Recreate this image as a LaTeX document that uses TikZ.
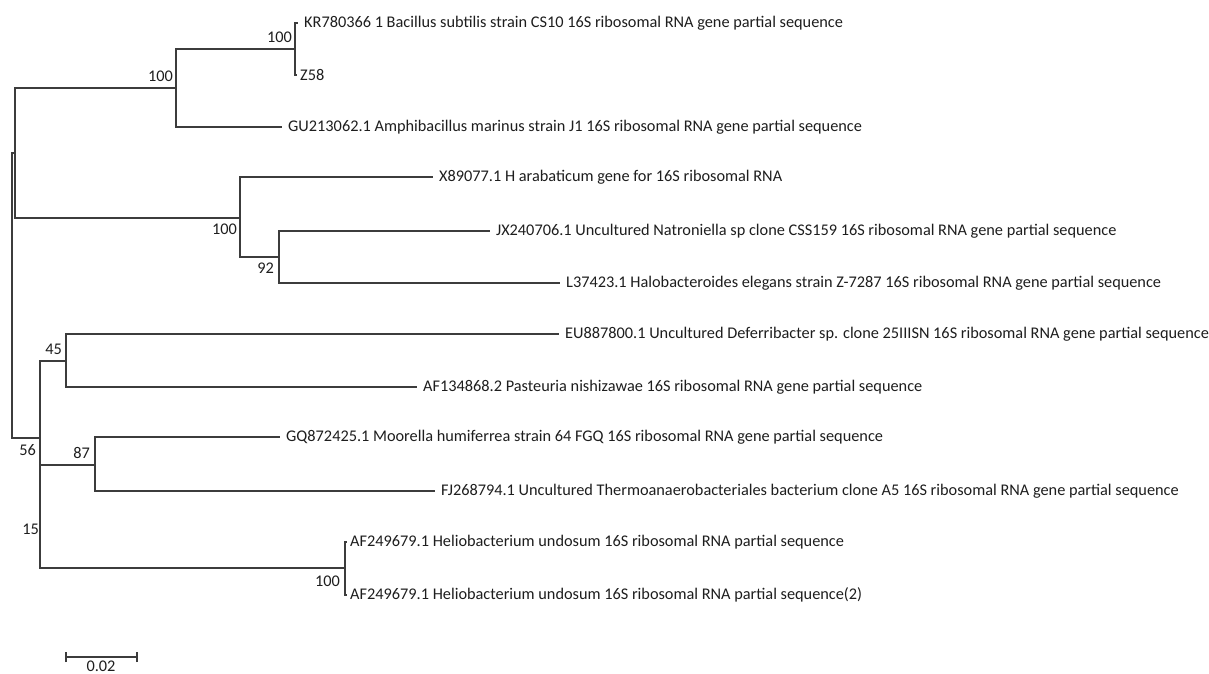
\documentclass[tikz,border=0pt]{standalone}
\usepackage{fontspec}
\setmainfont{Carlito}
\usepackage{xcolor}
\definecolor{TreeGray}{HTML}{3C3C3C}
\definecolor{LabelInk}{HTML}{1E1E1E}
\usepackage{tikz}
\usetikzlibrary{positioning}

\tikzset{
  branch/.style={draw=TreeGray, line width=1.3pt},
  leaflabel/.style={font=\fontsize{16.3}{18}\selectfont, text=LabelInk, inner sep=0pt, anchor=west},
  bootlabel/.style={font=\fontsize{16.3}{18}\selectfont, text=LabelInk, inner sep=0pt, anchor=east}
}

\begin{document}
\begin{tikzpicture}[x=1pt, y=-1pt]
  \useasboundingbox (0,0) rectangle (1209,674);
  \fill[white] (0,0) rectangle (1209,674);

  % internal nodes
  \coordinate (root) at (12,295);
  \coordinate (nA) at (15,153);
  \coordinate (nC) at (176,88);
  \coordinate (nE) at (295,49);
  \coordinate (nD) at (240,218);
  \coordinate (nF) at (279,257);
  \coordinate (nB) at (40,438);
  \coordinate (nG) at (66,361);
  \coordinate (nH) at (95,465);
  \coordinate (nI) at (345,568);

  % leaf tips
  \coordinate (tKR) at (298,23);
  \coordinate (tZ58) at (297,75);
  \coordinate (tGU) at (282,127);
  \coordinate (tX89) at (433,177);
  \coordinate (tJX) at (490,231);
  \coordinate (tL37) at (560,283);
  \coordinate (tEU) at (559,334);
  \coordinate (tAF13) at (417,387);
  \coordinate (tGQ) at (280,437);
  \coordinate (tFJ) at (435,491);
  \coordinate (tHe1) at (347,542);
  \coordinate (tHe2) at (347,595);

  % leaf labels
  \node[leaflabel, right=6pt of tKR] (lKR) {KR780366 1 Bacillus subtilis strain CS10 16S ribosomal RNA gene partial sequence};
  \node[leaflabel, right=3pt of tZ58] (lZ58) {Z58};
  \node[leaflabel, right=6pt of tGU] (lGU) {GU213062.1 Amphibacillus marinus strain J1 16S ribosomal RNA gene partial sequence};
  \node[leaflabel, right=6pt of tX89] (lX89) {X89077.1 H arabaticum gene for 16S ribosomal RNA};
  \node[leaflabel, right=6pt of tJX] (lJX) {JX240706.1 Uncultured Natroniella sp clone CSS159 16S ribosomal RNA gene partial sequence};
  \node[leaflabel, right=6pt of tL37] (lL37) {L37423.1 Halobacteroides elegans strain Z-7287 16S ribosomal RNA gene partial sequence};
  \node[leaflabel, right=6pt of tEU] (lEU) {EU887800.1 Uncultured Deferribacter sp. clone 25IIISN 16S ribosomal RNA gene partial sequence};
  \node[leaflabel, right=6pt of tAF13] (lAF13) {AF134868.2 Pasteuria nishizawae 16S ribosomal RNA gene partial sequence};
  \node[leaflabel, right=6pt of tGQ] (lGQ) {GQ872425.1 Moorella humiferrea strain 64 FGQ 16S ribosomal RNA gene partial sequence};
  \node[leaflabel, right=6pt of tFJ] (lFJ) {FJ268794.1 Uncultured Thermoanaerobacteriales bacterium clone A5 16S ribosomal RNA gene partial sequence};
  \node[leaflabel, right=3pt of tHe1] (lHe1) {AF249679.1 Heliobacterium undosum 16S ribosomal RNA partial sequence};
  \node[leaflabel, right=3pt of tHe2] (lHe2) {AF249679.1 Heliobacterium undosum 16S ribosomal RNA partial sequence(2)};

  % branches
  \draw[branch] (root) |- (nA);
  \draw[branch] (root) |- (nB);
  \draw[branch] (nA) |- (nC);
  \draw[branch] (nA) |- (nD);
  \draw[branch] (nC) |- (nE);
  \draw[branch] (nC) |- (tGU);
  \draw[branch] (nE) |- (tKR);
  \draw[branch] (nE) |- (tZ58);
  \draw[branch] (nD) |- (tX89);
  \draw[branch] (nD) |- (nF);
  \draw[branch] (nF) |- (tJX);
  \draw[branch] (nF) |- (tL37);
  \draw[branch] (nB) |- (nG);
  \draw[branch] (nB) |- (nH);
  \draw[branch] (nB) |- (nI);
  \draw[branch] (nG) |- (tEU);
  \draw[branch] (nG) |- (tAF13);
  \draw[branch] (nH) |- (tGQ);
  \draw[branch] (nH) |- (tFJ);
  \draw[branch] (nI) |- (tHe1);
  \draw[branch] (nI) |- (tHe2);

  % bootstrap values
  \node[bootlabel] (bE) at (292,37) {100};
  \node[bootlabel] (bC) at (173,76) {100};
  \node[bootlabel] (bD) at (237,229) {100};
  \node[bootlabel] (bF) at (274,268) {92};
  \node[bootlabel] (bG) at (62,349) {45};
  \node[bootlabel] (bB) at (36,450) {56};
  \node[bootlabel] (bH) at (90,453) {87};
  \node[bootlabel] (bX) at (39,529) {15};
  \node[bootlabel] (bI) at (340,581) {100};

  % scale bar
  \coordinate (sbL) at (66,657);
  \coordinate (sbR) at (137,657);
  \draw[branch] (sbL) -- (sbR);
  \draw[branch] ([yshift=-5pt]sbL) -- ([yshift=5pt]sbL);
  \draw[branch] ([yshift=-5pt]sbR) -- ([yshift=5pt]sbR);
  \node[font=\fontsize{16.3}{18}\selectfont, text=LabelInk, inner sep=0pt, anchor=north] (sbText) at (101,661) {0.02};
\end{tikzpicture}
\end{document}
